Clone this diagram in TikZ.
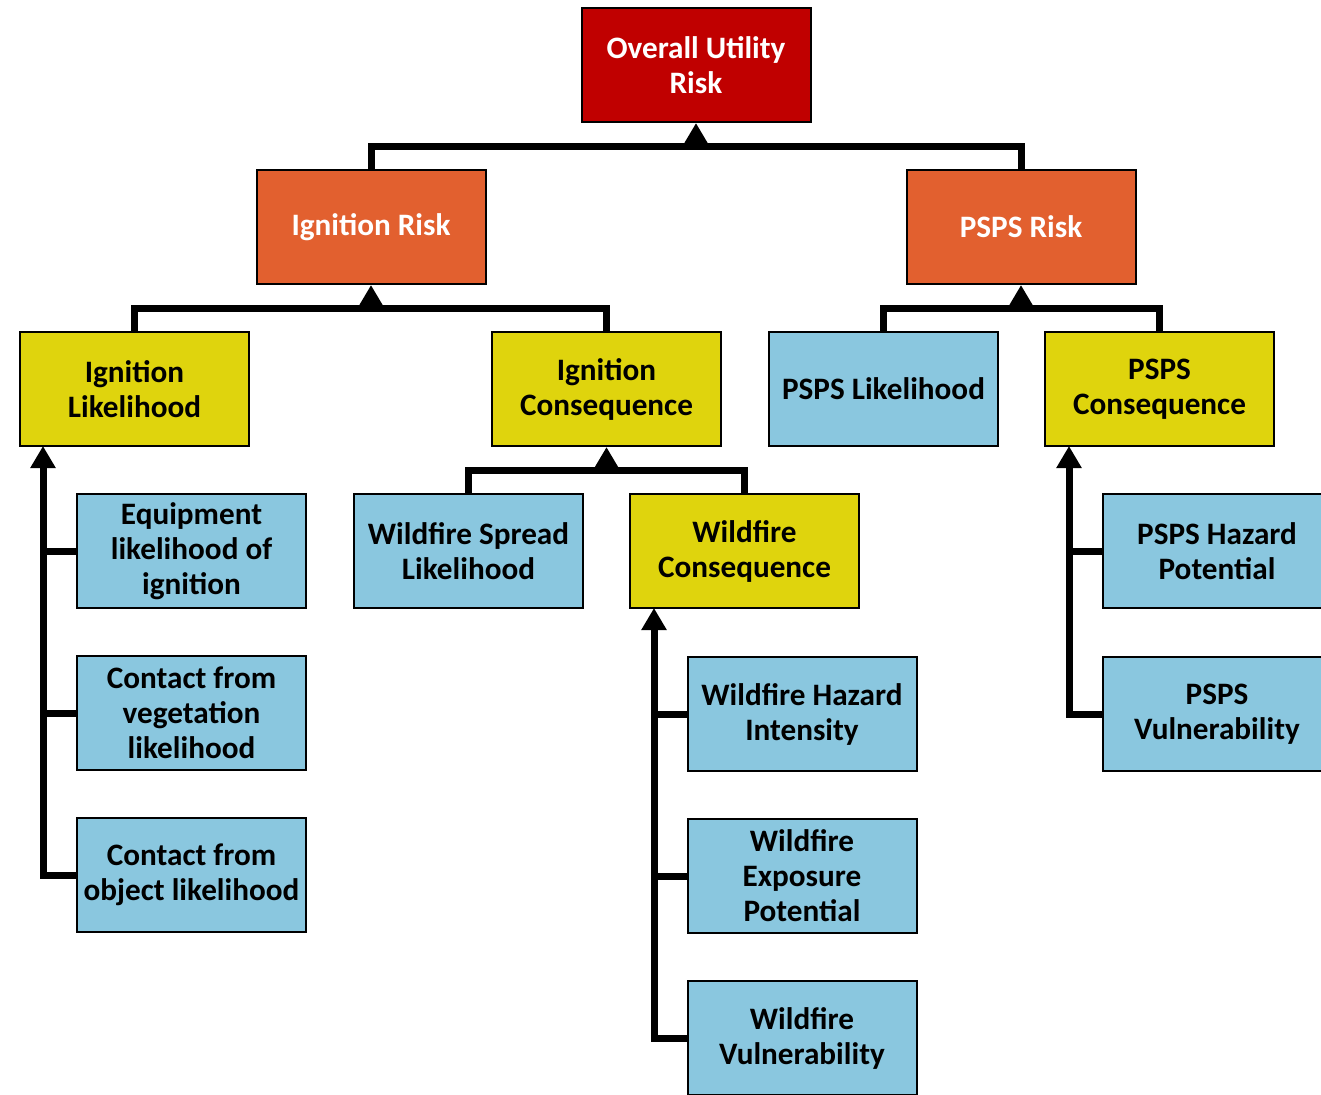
\documentclass[tikz,border=0pt]{standalone}
\usepackage{fontspec}
\setmainfont{Carlito}
\usetikzlibrary{arrows.meta}
\definecolor{riskred}{HTML}{C00000}
\definecolor{riskorange}{HTML}{E2602F}
\definecolor{riskyellow}{HTML}{DFD40D}
\definecolor{riskblue}{HTML}{8AC7DF}
\begin{document}
\begin{tikzpicture}[x=0.5pt,y=-0.5pt,
  box/.style={draw=black, line width=1pt, minimum width=114.5pt, minimum height=57pt,
    inner sep=0pt, align=center, font=\fontsize{15.6}{17.5}\selectfont\bfseries},
  topbox/.style={box, fill=riskred, text=white},
  midbox/.style={box, fill=riskorange, text=white},
  ybox/.style={box, fill=riskyellow, text=black},
  bbox/.style={box, fill=riskblue, text=black},
  conn/.style={line width=3.5pt, line join=miter, draw=black},
  arr/.style={conn, -{Triangle[width=12pt,length=11pt]}}]
\useasboundingbox (0,0) rectangle (1321,1094);
\clip (0,0) rectangle (1321,1094);

% level 0 and 1
\node[topbox] (our) at (696,65) {Overall Utility\\Risk};
\node[midbox] (ir) at (371,227) {Ignition Risk};
\node[midbox] (pr) at (1021,227) {PSPS Risk};

% level 2
\node[ybox] (il) at (134.5,389) {Ignition\\Likelihood};
\node[ybox] (ic) at (606.5,389) {Ignition\\Consequence};
\node[bbox] (pl) at (883.5,389) {PSPS Likelihood};
\node[ybox] (pc) at (1159.5,389) {PSPS\\Consequence};

% ignition likelihood drivers
\node[bbox] (eq) at (191.5,551) {Equipment\\likelihood of\\ignition};
\node[bbox] (veg) at (191.5,713) {Contact from\\vegetation\\likelihood};
\node[bbox] (obj) at (191.5,875) {Contact from\\object likelihood};

% ignition consequence drivers
\node[bbox] (ws) at (468.5,551) {Wildfire Spread\\Likelihood};
\node[ybox] (wc) at (744.5,551) {Wildfire\\Consequence};
\node[bbox] (whi) at (802,714) {Wildfire Hazard\\Intensity};
\node[bbox] (wep) at (802,876) {Wildfire\\Exposure\\Potential};
\node[bbox] (wv) at (802,1038) {Wildfire\\Vulnerability};

% PSPS consequence drivers
\node[bbox] (php) at (1217,551) {PSPS Hazard\\Potential};
\node[bbox] (pv) at (1217,714) {PSPS\\Vulnerability};

% junction points
\coordinate (j0) at (our.south |- 0,146);
\coordinate (j1) at (ir.south |- 0,308);
\coordinate (j2) at (pr.south |- 0,308);
\coordinate (j3) at (ic.south |- 0,470);
\coordinate (v1) at (43,446);
\coordinate (v2) at (654,608);
\coordinate (v3) at (1069,446);

% top tree
\draw[conn] (ir.north) |- (j0) -| (pr.north);
\draw[arr] (j0) -- (our.south);

\draw[conn] (il.north) |- (j1) -| (ic.north);
\draw[arr] (j1) -- (ir.south);

\draw[conn] (pl.north) |- (j2) -| (pc.north);
\draw[arr] (j2) -- (pr.south);

\draw[conn] (ws.north) |- (j3) -| (wc.north);
\draw[arr] (j3) -- (ic.south);

% side feeders
\draw[arr] (obj.west) -| (v1);
\draw[conn] (eq.west) -- (eq.west -| v1);
\draw[conn] (veg.west) -- (veg.west -| v1);

\draw[arr] (wv.west) -| (v2);
\draw[conn] (whi.west) -- (whi.west -| v2);
\draw[conn] (wep.west) -- (wep.west -| v2);

\draw[arr] (pv.west) -| (v3);
\draw[conn] (php.west) -- (php.west -| v3);
\end{tikzpicture}
\end{document}
